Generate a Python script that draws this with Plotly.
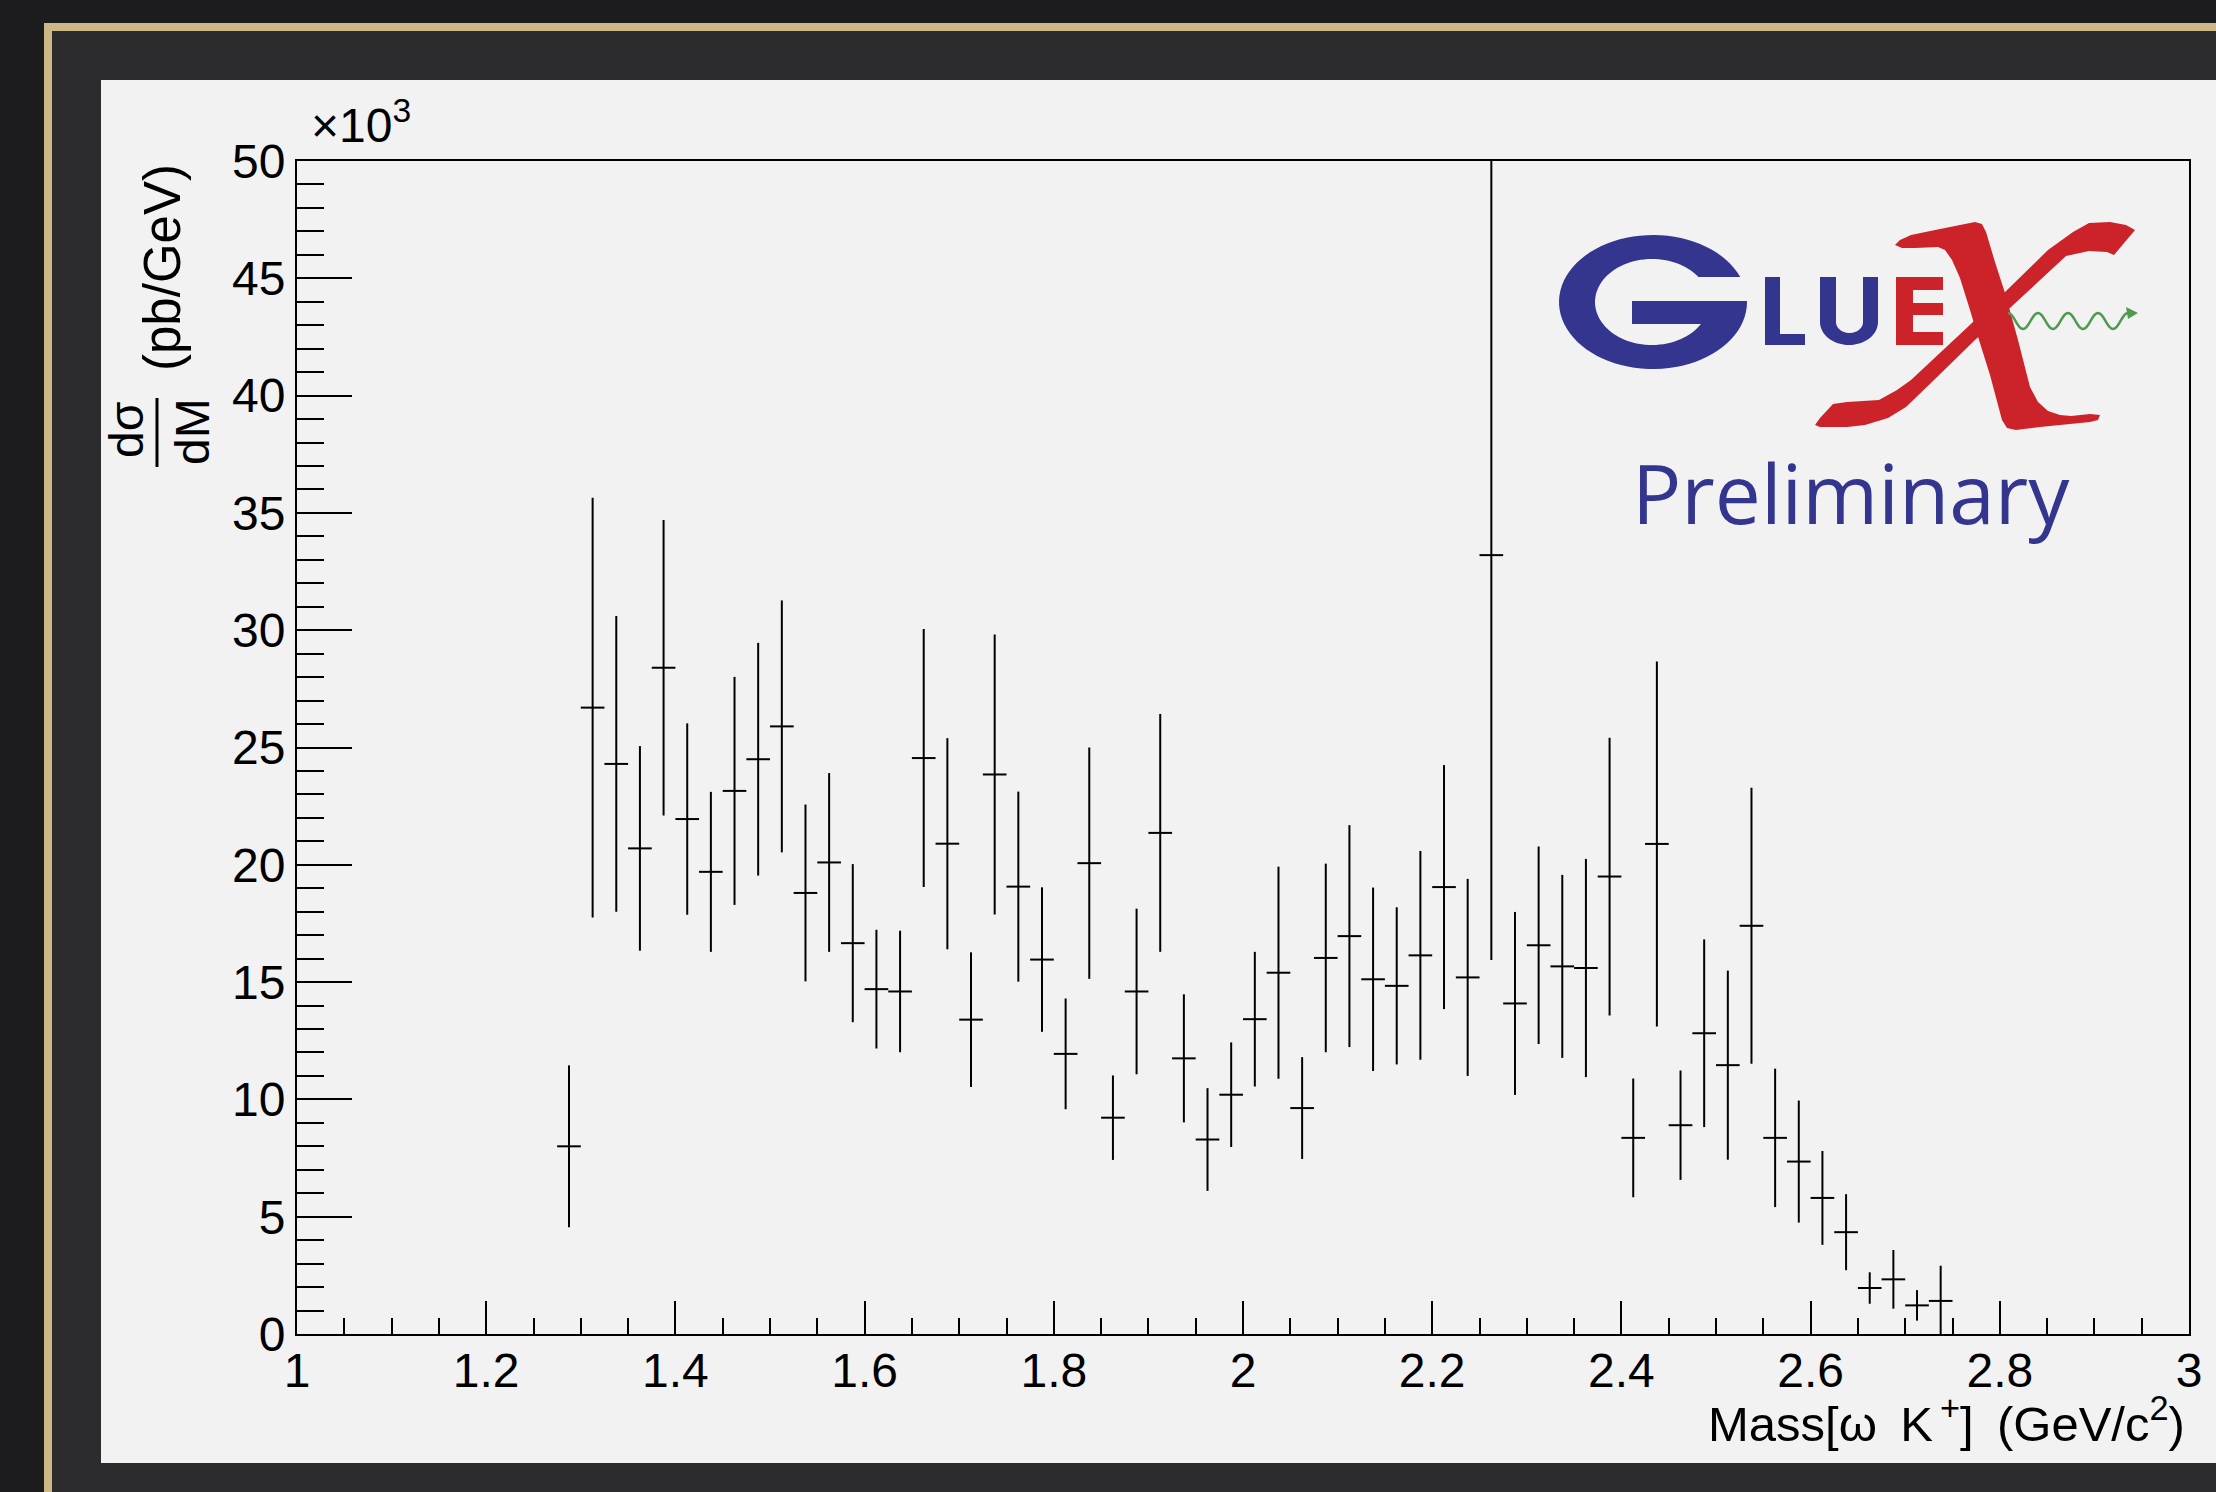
import math
import plotly.graph_objects as go

# ---------------- data (values in units of 10^3 pb/GeV) ----------------
mass_bin_centers = [
    1.2875, 1.3125, 1.3375, 1.3625, 1.3875, 1.4125, 1.4375, 1.4625, 1.4875, 1.5125,
    1.5375, 1.5625, 1.5875, 1.6125, 1.6375, 1.6625, 1.6875, 1.7125, 1.7375, 1.7625,
    1.7875, 1.8125, 1.8375, 1.8625, 1.8875, 1.9125, 1.9375, 1.9625, 1.9875, 2.0125,
    2.0375, 2.0625, 2.0875, 2.1125, 2.1375, 2.1625, 2.1875, 2.2125, 2.2375, 2.2625,
    2.2875, 2.3125, 2.3375, 2.3625, 2.3875, 2.4125, 2.4375, 2.4625, 2.4875, 2.5125,
    2.5375, 2.5625, 2.5875, 2.6125, 2.6375, 2.6625, 2.6875, 2.7125, 2.7375,
]
dsigma_dM = [
    8.0, 26.7, 24.3, 20.7, 28.4, 21.95, 19.7, 23.15, 24.5, 25.9,
    18.8, 20.1, 16.66, 14.7, 14.6, 24.55, 20.9, 13.4, 23.85, 19.07,
    15.96, 11.94, 20.07, 9.22, 14.6, 21.36, 11.75, 8.29, 10.2, 13.42,
    15.4, 9.63, 16.03, 16.96, 15.12, 14.84, 16.14, 19.05, 15.2, 33.2,
    14.09, 16.57, 15.67, 15.6, 19.5, 8.36, 20.89, 8.9, 12.82, 11.46,
    17.4, 8.36, 7.35, 5.8, 4.34, 1.96, 2.33, 1.22, 1.41,
]
dsigma_dM_err = [
    3.45, 8.95, 6.3, 4.36, 6.3, 4.08, 3.41, 4.86, 4.96, 5.37,
    3.77, 3.81, 3.37, 2.53, 2.59, 5.5, 4.5, 2.87, 5.97, 4.05,
    3.08, 2.36, 4.93, 1.8, 3.53, 5.07, 2.73, 2.19, 2.23, 2.87,
    4.52, 2.17, 4.02, 4.73, 3.91, 3.35, 4.45, 5.2, 4.2, 17.26,
    3.9, 4.21, 3.9, 4.65, 5.92, 2.53, 7.78, 2.33, 4.0, 4.03,
    5.88, 2.95, 2.6, 2.0, 1.62, 0.67, 1.25, 0.65, 1.5,
]
BIN_WIDTH = 0.025

x_range = [1, 3]
y_range = [0, 50]

# ---------------- layout geometry (pixels) ----------------
W, H = 2216, 1492
PL, PR, PT, PB = 297, 2189, 161, 1334

FONT = "Liberation Sans, Arial, sans-serif"
BLUE = "#33358f"
RED = "#cc2229"
GREEN = "#4f9a4f"


def fx(px):
    return (px - PL) / (PR - PL)


def fy(py):
    return (PB - py) / (PB - PT)


def path_from(points, close=True):
    s = "M " + " L ".join(f"{fx(x):.5f},{fy(y):.5f}" for x, y in points)
    return s + (" Z" if close else "")


def ellipse_pts(cx, cy, rx, ry, t0, t1, n=80):
    pts = []
    for i in range(n + 1):
        t = math.radians(t0 + (t1 - t0) * i / n)
        pts.append((cx + rx * math.cos(t), cy - ry * math.sin(t)))
    return pts


fig = go.Figure()
fig.add_trace(go.Scatter(
    x=mass_bin_centers,
    y=dsigma_dM,
    mode="markers",
    marker=dict(size=1, color="rgba(0,0,0,0)"),
    error_y=dict(type="data", array=dsigma_dM_err, visible=True,
                 color="black", thickness=2, width=0),
    error_x=dict(type="constant", value=BIN_WIDTH / 2, visible=True,
                 color="black", thickness=2, width=0),
    showlegend=False,
    hoverinfo="x+y",
))

shapes = []
# Background frames
shapes.append(dict(type="rect", xref="paper", yref="paper", layer="below",
                   x0=fx(44), y0=fy(23), x1=fx(2400), y1=fy(1700),
                   fillcolor="#cdb787", line=dict(width=0)))
shapes.append(dict(type="rect", xref="paper", yref="paper", layer="below",
                   x0=fx(52), y0=fy(31), x1=fx(2400), y1=fy(1700),
                   fillcolor="#2c2c2e", line=dict(width=0)))
shapes.append(dict(type="rect", xref="paper", yref="paper", layer="below",
                   x0=fx(101), y0=fy(80), x1=fx(2400), y1=fy(1463),
                   fillcolor="#f2f2f2", line=dict(width=0)))

# ---- GlueX logo ----
# G
g_pts = ellipse_pts(1653, 302, 94, 67, 21.9, 360)
g_pts += [(1747, 301), (1632, 301), (1632, 324)]
g_pts += ellipse_pts(1652, 302, 57, 43, -30.8, -324.5)
shapes.append(dict(type="path", xref="paper", yref="paper", layer="above",
                   path=path_from(g_pts), fillcolor=BLUE, line=dict(width=0)))
# L
l_pts = [(1765, 277), (1780, 277), (1780, 334), (1805, 334), (1805, 345), (1765, 345)]
shapes.append(dict(type="path", xref="paper", yref="paper", layer="above",
                   path=path_from(l_pts), fillcolor=BLUE, line=dict(width=0)))
# U
u_pts = [(1820, 277), (1836, 277), (1836, 322)]
u_pts += ellipse_pts(1849.5, 322, 13.5, 11, 180, 360, 30)
u_pts += [(1863, 277), (1878, 277), (1878, 322)]
u_pts += ellipse_pts(1849, 322, 29, 23, 0, -180, 40)
shapes.append(dict(type="path", xref="paper", yref="paper", layer="above",
                   path=path_from(u_pts), fillcolor=BLUE, line=dict(width=0)))
# E
e_pts = [(1896, 277), (1943, 277), (1943, 290), (1913, 290), (1913, 303), (1943, 303),
         (1943, 315), (1913, 315), (1913, 332), (1943, 332), (1943, 345), (1896, 345)]
shapes.append(dict(type="path", xref="paper", yref="paper", layer="above",
                   path=path_from(e_pts), fillcolor=RED, line=dict(width=0)))
# X thin stroke "/"
x2_pts = [(2135, 230), (2126, 225), (2110, 222), (2089, 223), (2073, 232), (2048, 250),
          (2005, 292), (1957, 337), (1911, 380), (1897, 390), (1879, 400), (1847, 402),
          (1833, 404), (1820, 418), (1815, 425), (1820, 427), (1847, 427), (1865, 425),
          (1888, 418), (1906, 407), (1934, 380), (1975, 340), (2011, 307), (2066, 256),
          (2089, 251), (2107, 252), (2114, 255)]
shapes.append(dict(type="path", xref="paper", yref="paper", layer="above",
                   path=path_from(x2_pts), fillcolor=RED, line=dict(width=0)))
# X thick stroke "\"
x1_pts = [(1895, 245), (1900, 240), (1911, 235), (1940, 229), (1975, 222), (1982, 224),
          (1986, 232), (1995, 262), (2005, 293), (2018, 340), (2030, 387), (2038, 402),
          (2048, 411), (2060, 415), (2071, 416), (2090, 414), (2100, 415), (2098, 420),
          (2090, 422), (2040, 427), (2016, 430), (2007, 428), (2002, 420), (1990, 375),
          (1979, 340), (1970, 310), (1960, 278), (1952, 260), (1945, 250), (1938, 247),
          (1915, 248), (1902, 248)]
shapes.append(dict(type="path", xref="paper", yref="paper", layer="above",
                   path=path_from(x1_pts), fillcolor=RED, line=dict(width=0)))
# green wave with arrow
wave = []
for i in range(121):
    xx = 2008 + i
    wave.append((xx, 321 - 8 * math.cos(2 * math.pi * (xx - 2008) / 30)))
shapes.append(dict(type="path", xref="paper", yref="paper", layer="above",
                   path=path_from(wave, close=False), line=dict(color=GREEN, width=2.5)))
shapes.append(dict(type="path", xref="paper", yref="paper", layer="above",
                   path=path_from([(2126, 307), (2138, 313), (2128, 319)]),
                   fillcolor=GREEN, line=dict(width=0)))
# fraction bar for y title
shapes.append(dict(type="line", xref="paper", yref="paper", layer="above",
                   x0=fx(157), x1=fx(157), y0=fy(398), y1=fy(467),
                   line=dict(color="black", width=3)))

annotations = [
    dict(text="Preliminary", x=fx(1851), y=fy(492), xref="paper", yref="paper",
         xanchor="center", yanchor="middle", showarrow=False,
         font=dict(family="Open Sans, sans-serif", size=82, color=BLUE)),
    dict(text="×10<sup>3</sup>", x=fx(309), y=fy(122), xref="paper", yref="paper",
         xanchor="left", yanchor="middle", showarrow=False,
         font=dict(family=FONT, size=48, color="black")),
    dict(text="Mass[ω\u2009 K<sup>\u2009+</sup>]\u2009 (GeV/c<sup>2</sup>)", x=fx(2187), y=fy(1420),
         xref="paper", yref="paper", xanchor="right", yanchor="middle", showarrow=False,
         font=dict(family=FONT, size=49, color="black")),
    dict(text="(pb/GeV)", x=fx(162), y=fy(268), xref="paper", yref="paper",
         xanchor="center", yanchor="middle", textangle=-90, showarrow=False,
         font=dict(family=FONT, size=51, color="black")),
    dict(text="dσ", x=fx(126), y=fy(430), xref="paper", yref="paper",
         xanchor="center", yanchor="middle", textangle=-90, showarrow=False,
         font=dict(family=FONT, size=48, color="black")),
    dict(text="dM", x=fx(192), y=fy(432), xref="paper", yref="paper",
         xanchor="center", yanchor="middle", textangle=-90, showarrow=False,
         font=dict(family=FONT, size=48, color="black")),
]

axis_common = dict(
    showgrid=False, zeroline=False, showline=True, linecolor="black", linewidth=2,
    mirror=True, ticks="inside", tickcolor="black", tickwidth=2,
    tickfont=dict(family=FONT, size=48, color="black"),
)

fig.update_layout(
    width=W, height=H,
    margin=dict(l=PL, r=W - PR, t=PT, b=H - PB, pad=0),
    paper_bgcolor="#1c1c1e",
    plot_bgcolor="#f2f2f2",
    xaxis=dict(range=x_range, tick0=1, dtick=0.2, ticklen=33, ticklabelstandoff=-7,
               minor=dict(dtick=0.05, ticklen=16, tickwidth=2, tickcolor="black",
                          ticks="inside", showgrid=False),
               **axis_common),
    yaxis=dict(range=y_range, tick0=0, dtick=5, ticklen=55,
               minor=dict(dtick=1, ticklen=27, tickwidth=2, tickcolor="black",
                          ticks="inside", showgrid=False),
               **axis_common),
    shapes=shapes,
    annotations=annotations,
    showlegend=False,
)

fig.write_html(
    "out.html",
    config={"displayModeBar": False},
    post_script="document.body.style.margin='0';document.body.style.overflow='hidden';",
)
